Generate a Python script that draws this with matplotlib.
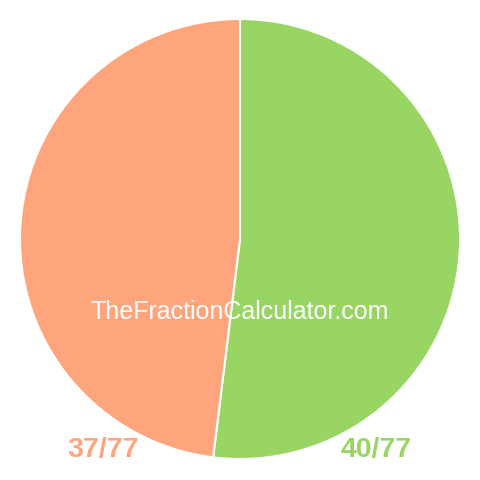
import matplotlib
matplotlib.use("Agg")
import matplotlib.pyplot as plt

labels = ["40/77", "37/77"]
values = [40, 37]
colors = ["#98D562", "#FFA57D"]
watermark = "TheFractionCalculator.com"

fig = plt.figure(figsize=(4.8, 4.8), dpi=100)
ax = fig.add_axes([0, 0, 1, 1])
ax.set_xlim(0, 480)
ax.set_ylim(0, 480)
ax.set_aspect("equal")
ax.axis("off")

ax.pie(values, colors=colors, startangle=90, counterclock=False,
       center=(240, 241), radius=220,
       wedgeprops=dict(edgecolor="white", linewidth=1.5))
ax.set_xlim(0, 480)
ax.set_ylim(0, 480)

ax.text(240, 480 - 312, watermark, color="white", fontsize=18,
        family="Liberation Sans", ha="center", va="center")
ax.text(103, 480 - 450, labels[1], color=colors[1], fontsize=20.5,
        family="Liberation Sans", fontweight="bold", ha="center", va="center")
ax.text(376, 480 - 450, labels[0], color=colors[0], fontsize=20.5,
        family="Liberation Sans", fontweight="bold", ha="center", va="center")

fig.savefig("out.png", dpi=100)
